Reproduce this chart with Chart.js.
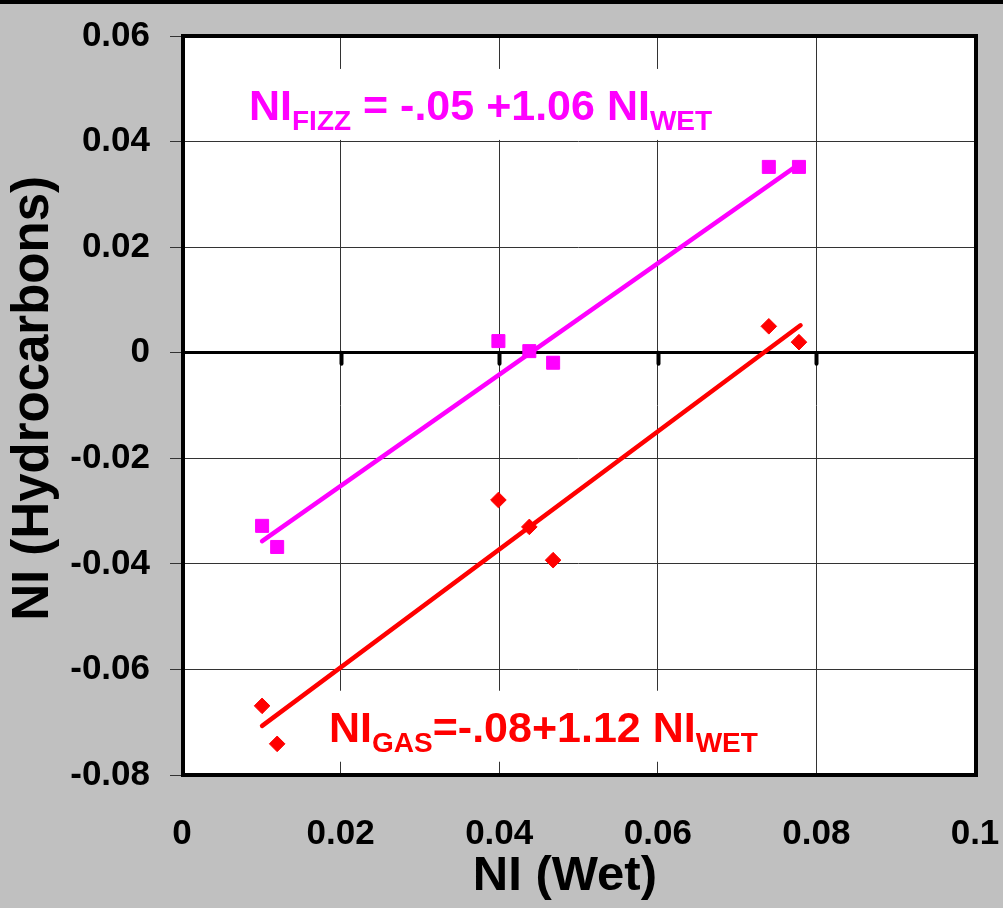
<!DOCTYPE html>
<html>
<head>
<meta charset="utf-8">
<title>NI (Hydrocarbons) vs NI (Wet)</title>
<script src="https://cdn.jsdelivr.net/npm/chart.js@4.4.0/dist/chart.umd.min.js"></script>
<style>
  html, body { margin: 0; padding: 0; background: #c0c0c0; }
  #niChart { display: block; }
</style>
</head>
<body>
<canvas id="niChart" width="1003" height="908"></canvas>
<script>
// NI of the wet samples (shared x for both series)
const wetNI = [0.0101, 0.0120, 0.0399, 0.0438, 0.0468, 0.0740, 0.0778];
// NI measured with fizz water and with gas
const fizzNI = [-0.0328, -0.0368, 0.0022, 0.0003, -0.0019, 0.0352, 0.0352];
const gasNI = [-0.0669, -0.0741, -0.0279, -0.0330, -0.0393, 0.0050, 0.0020];

// end points of the fitted lines
const fitWet = [0.0101, 0.0780];
const fizzFit = [-0.0357, 0.0359];
const gasFit = [-0.0707, 0.0052];

const xTicks = [0, 0.02, 0.04, 0.06, 0.08, 0.1];
const xTickLabels = ['0', '0.02', '0.04', '0.06', '0.08', '0.1'];
const yTicks = [-0.08, -0.06, -0.04, -0.02, 0, 0.02, 0.04, 0.06];
const yTickLabels = ['-0.08', '-0.06', '-0.04', '-0.02', '0', '0.02', '0.04', '0.06'];

const FONT = '"Liberation Sans", Arial, sans-serif';
const MAGENTA = '#ff00ff';
const RED = '#ff0000';

// text pieces of the equations: [text, isSubscript]
const fizzEq = [['NI', false], ['FIZZ', true], [' = -.05 +1.06 NI', false], ['WET', true]];
const gasEq = [['NI', false], ['GAS', true], ['=-.08+1.12 NI', false], ['WET', true]];

function pairs(xs, ys) {
  return xs.map((x, i) => ({ x: x, y: ys[i] }));
}

function eqWidth(ctx, parts) {
  let w = 0;
  for (const [text, sub] of parts) {
    ctx.font = 'bold ' + (sub ? 28 : 43) + 'px ' + FONT;
    w += ctx.measureText(text).width;
  }
  return w;
}

function drawEq(ctx, parts, x, y, color) {
  ctx.fillStyle = color;
  ctx.textBaseline = 'alphabetic';
  ctx.textAlign = 'left';
  for (const [text, sub] of parts) {
    ctx.font = 'bold ' + (sub ? 28 : 43) + 'px ' + FONT;
    ctx.fillText(text, x, sub ? y + 10 : y);
    x += ctx.measureText(text).width;
  }
}

// where each equation sits, in data units (left end, baseline)
const labelSpots = [
  { parts: fizzEq, x: 0.00845, y: 0.0441, color: MAGENTA },
  { parts: gasEq, x: 0.01854, y: -0.0737, color: RED }
];

const framePlugin = {
  id: 'frame',
  beforeDraw(chart) {
    const { ctx, chartArea: a } = chart;
    ctx.save();
    ctx.fillStyle = '#c0c0c0';
    ctx.fillRect(0, 0, chart.width, chart.height);
    ctx.fillStyle = '#000';
    ctx.fillRect(0, 0, chart.width, 4);
    ctx.fillStyle = '#fff';
    ctx.fillRect(a.left, a.top, a.right - a.left, a.bottom - a.top);
    ctx.restore();
  },
  beforeDatasetsDraw(chart) {
    const { ctx, scales } = chart;
    const xs = scales.x, ys = scales.y;
    ctx.save();
    // white boxes behind the equations hide the grid
    ctx.fillStyle = '#fff';
    for (const s of labelSpots) {
      const px = xs.getPixelForValue(s.x);
      const py = ys.getPixelForValue(s.y);
      const w = eqWidth(ctx, s.parts);
      ctx.fillRect(px - 15, py - 51, w + 31, 71);
    }
    // small ticks hanging under the zero line
    const y0 = ys.getPixelForValue(0);
    ctx.strokeStyle = '#000';
    ctx.lineWidth = 4;
    ctx.lineCap = 'round';
    for (const v of xTicks) {
      if (v <= 0 || v >= 0.1) continue;
      const px = Math.round(xs.getPixelForValue(v)) + 0.5;
      ctx.beginPath();
      ctx.moveTo(px, y0);
      ctx.lineTo(px, y0 + 11);
      ctx.stroke();
    }
    ctx.restore();
  },
  afterDatasetsDraw(chart) {
    const { ctx, scales } = chart;
    ctx.save();
    for (const s of labelSpots) {
      drawEq(ctx, s.parts, scales.x.getPixelForValue(s.x), scales.y.getPixelForValue(s.y), s.color);
    }
    ctx.restore();
  },
  afterDraw(chart) {
    const { ctx, chartArea: a } = chart;
    ctx.save();
    ctx.strokeStyle = '#000';
    ctx.lineWidth = 4;
    ctx.strokeRect(a.left + 1, a.top, a.right - a.left, a.bottom - a.top);
    ctx.restore();
  }
};

const tickFont = { family: FONT, size: 35, weight: 'bold' };

new Chart(document.getElementById('niChart'), {
  type: 'scatter',
  data: {
    datasets: [
      {
        label: 'NI fizz',
        data: pairs(wetNI, fizzNI),
        pointStyle: 'rect',
        pointRadius: 9.2,
        backgroundColor: MAGENTA,
        borderColor: MAGENTA,
        borderWidth: 1,
        order: 1
      },
      {
        label: 'NI gas',
        data: pairs(wetNI, gasNI),
        pointStyle: 'rectRot',
        pointRadius: 7.8,
        backgroundColor: RED,
        borderColor: RED,
        borderWidth: 1,
        order: 1
      },
      {
        label: 'fizz fit',
        data: pairs(fitWet, fizzFit),
        showLine: true,
        pointRadius: 0,
        borderColor: MAGENTA,
        borderWidth: 4.5,
        borderCapStyle: 'round',
        order: 2
      },
      {
        label: 'gas fit',
        data: pairs(fitWet, gasFit),
        showLine: true,
        pointRadius: 0,
        borderColor: RED,
        borderWidth: 4.5,
        borderCapStyle: 'round',
        order: 2
      }
    ]
  },
  options: {
    responsive: false,
    animation: false,
    events: [],
    layout: { padding: { top: 36, right: 28, left: 0, bottom: 0 } },
    plugins: {
      legend: { display: false },
      tooltip: { enabled: false }
    },
    scales: {
      x: {
        type: 'linear',
        min: 0,
        max: 0.1,
        afterBuildTicks: s => { s.ticks = xTicks.map(v => ({ value: v })); },
        afterFit: s => {
          s.height = 133;
          s.paddingLeft = 0;
          s.paddingRight = 0;
        },
        border: { display: false },
        grid: { color: '#333', lineWidth: 1, drawTicks: false },
        ticks: {
          color: '#000',
          font: tickFont,
          padding: 38,
          maxRotation: 0,
          autoSkip: false,
          callback: (v, i) => xTickLabels[i]
        },
        title: {
          display: true,
          // trailing spaces nudge the title a little left of the axis centre
          text: 'NI (Wet)  ',
          color: '#000',
          font: { family: FONT, size: 49, weight: 'bold' },
          padding: { top: 0, bottom: 2 }
        }
      },
      y: {
        type: 'linear',
        min: -0.08,
        max: 0.06,
        afterBuildTicks: s => { s.ticks = yTicks.map(v => ({ value: v })); },
        afterFit: s => {
          s.width = 182;
          s.paddingTop = 0;
          s.paddingBottom = 0;
        },
        border: { display: false },
        grid: {
          color: c => (c.tick && c.tick.value === 0 ? '#000' : '#333'),
          lineWidth: c => (c.tick && c.tick.value === 0 ? 3 : 1),
          tickLength: 12,
          tickWidth: 1,
          tickColor: '#333'
        },
        ticks: {
          color: '#000',
          font: tickFont,
          padding: 20,
          autoSkip: false,
          callback: (v, i) => yTickLabels[i]
        },
        title: {
          display: true,
          text: ' NI (Hydrocarbons)',
          color: '#000',
          font: { family: FONT, size: 51, weight: 'bold' },
          padding: { top: 3, bottom: 0 }
        }
      }
    }
  },
  plugins: [framePlugin]
});
</script>
</body>
</html>
